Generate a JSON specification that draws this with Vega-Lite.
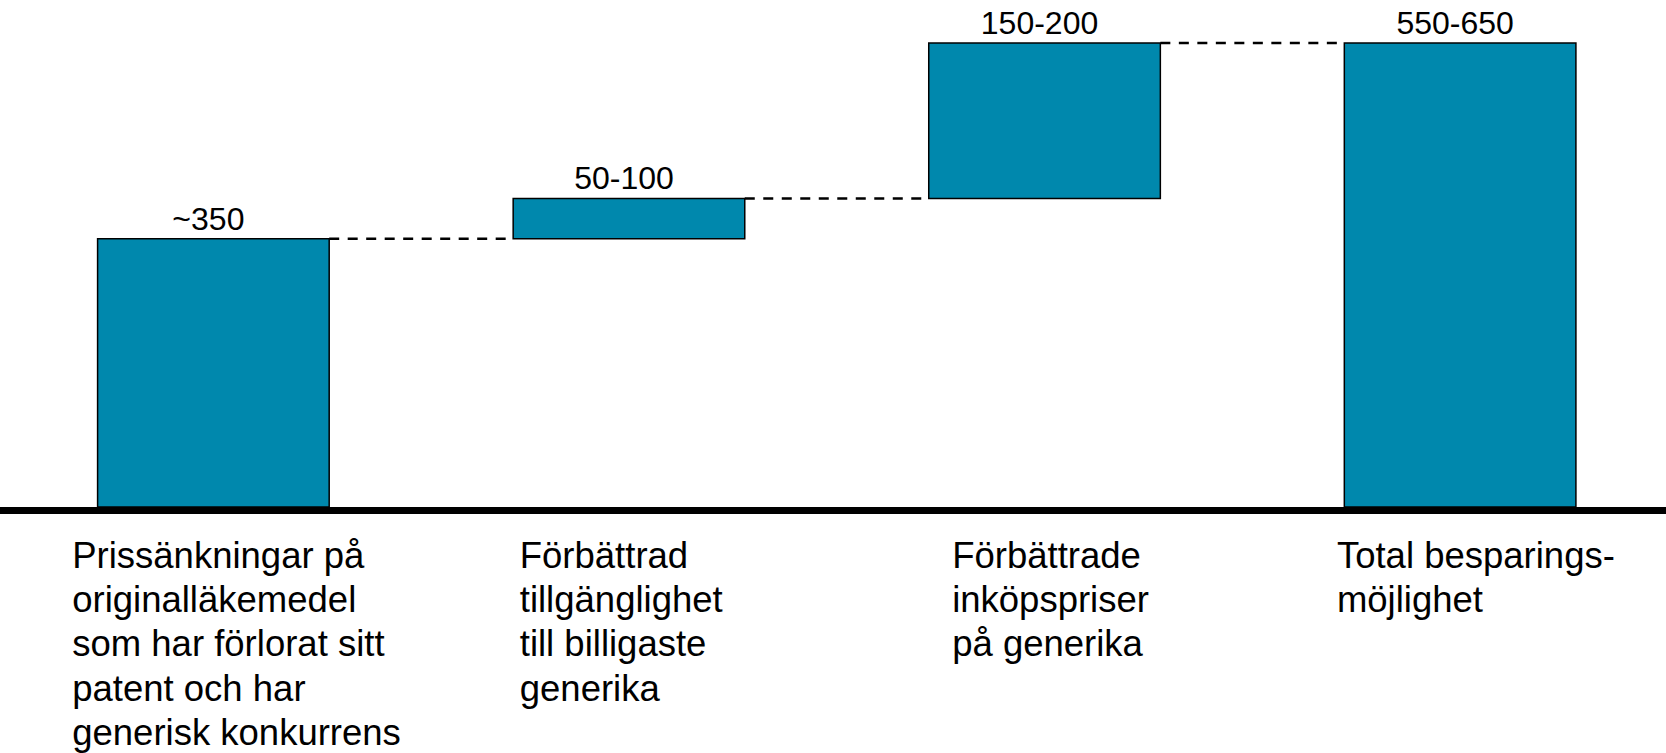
{
  "$schema": "https://vega.github.io/schema/vega-lite/v6.json",
  "width": 1666,
  "height": 753,
  "autosize": "none",
  "padding": 0,
  "background": "white",
  "config": {"view": {"stroke": null}, "font": "Liberation Sans"},
  "datasets": {
    "staplar": [
      {"kategori": "Prissänkningar", "start": 0, "slut": 347, "etikett": "~350", "rader": ["Prissänkningar på", "originalläkemedel", "som har förlorat sitt", "patent och har", "generisk konkurrens"]},
      {"kategori": "Tillgänglighet", "start": 347, "slut": 399, "etikett": "50-100", "rader": ["Förbättrad", "tillgänglighet", "till billigaste", "generika"]},
      {"kategori": "Inköpspriser", "start": 399, "slut": 600, "etikett": "150-200", "rader": ["Förbättrade", "inköpspriser", "på generika"]},
      {"kategori": "Total", "start": 0, "slut": 600, "etikett": "550-650", "rader": ["Total besparings-", "möjlighet"]}
    ],
    "kopplingar": [
      {"fran": "Prissänkningar", "till": "Tillgänglighet", "niva": 347},
      {"fran": "Tillgänglighet", "till": "Inköpspriser", "niva": 399},
      {"fran": "Inköpspriser", "till": "Total", "niva": 600}
    ]
  },
  "encoding": {
    "x": {
      "field": "kategori",
      "type": "nominal",
      "sort": null,
      "axis": null,
      "scale": {"domain": ["Prissänkningar", "Tillgänglighet", "Inköpspriser", "Total"], "paddingInner": 0.4427, "paddingOuter": 0.2258, "align": 0.52}
    }
  },
  "layer": [
    {
      "data": {"name": "kopplingar"},
      "mark": {"type": "rule", "color": "black", "strokeWidth": 2.5, "strokeDash": [10, 8.5]},
      "encoding": {
        "x": {"field": "fran", "type": "nominal", "bandPosition": 1, "sort": null, "axis": null},
        "x2": {"field": "till", "bandPosition": 0},
        "y": {"field": "niva", "type": "quantitative", "scale": {"domain": [-318.1, 655.6], "nice": false, "zero": false}, "axis": null}
      }
    },
    {
      "data": {"name": "staplar"},
      "mark": {"type": "bar", "color": "#0088AD", "stroke": "black", "strokeWidth": 1.5},
      "encoding": {
        "y": {"field": "start", "type": "quantitative", "scale": {"domain": [-318.1, 655.6], "nice": false, "zero": false}, "axis": null},
        "y2": {"field": "slut"}
      }
    },
    {
      "data": {"name": "staplar"},
      "mark": {"type": "rule", "color": "black", "strokeWidth": 7},
      "encoding": {
        "y": {"datum": -4.5, "type": "quantitative"},
        "x": null
      }
    },
    {
      "data": {"name": "staplar"},
      "mark": {"type": "text", "fontSize": 32, "baseline": "alphabetic", "align": "center", "dy": -9, "dx": -5, "color": "black"},
      "encoding": {
        "y": {"field": "slut", "type": "quantitative"},
        "text": {"field": "etikett"}
      }
    },
    {
      "data": {"name": "staplar"},
      "transform": [{"filter": "datum.kategori === 'Prissänkningar'"}],
      "mark": {"type": "text", "fontSize": 36.5, "lineHeight": 44.3, "baseline": "alphabetic", "align": "left", "dx": -25.4, "color": "black"},
      "encoding": {
        "x": {"field": "kategori", "type": "nominal", "bandPosition": 0, "sort": null, "axis": null},
        "y": {"datum": -78.5, "type": "quantitative"},
        "text": {"field": "rader"}
      }
    },
    {
      "data": {"name": "staplar"},
      "transform": [{"filter": "datum.kategori === 'Tillgänglighet'"}],
      "mark": {"type": "text", "fontSize": 36.5, "lineHeight": 44.3, "baseline": "alphabetic", "align": "left", "dx": 6.6, "color": "black"},
      "encoding": {
        "x": {"field": "kategori", "type": "nominal", "bandPosition": 0, "sort": null, "axis": null},
        "y": {"datum": -78.5, "type": "quantitative"},
        "text": {"field": "rader"}
      }
    },
    {
      "data": {"name": "staplar"},
      "transform": [{"filter": "datum.kategori === 'Inköpspriser'"}],
      "mark": {"type": "text", "fontSize": 36.5, "lineHeight": 44.3, "baseline": "alphabetic", "align": "left", "dx": 23.4, "color": "black"},
      "encoding": {
        "x": {"field": "kategori", "type": "nominal", "bandPosition": 0, "sort": null, "axis": null},
        "y": {"datum": -78.5, "type": "quantitative"},
        "text": {"field": "rader"}
      }
    },
    {
      "data": {"name": "staplar"},
      "transform": [{"filter": "datum.kategori === 'Total'"}],
      "mark": {"type": "text", "fontSize": 36.5, "lineHeight": 44.3, "baseline": "alphabetic", "align": "left", "dx": -7.4, "color": "black"},
      "encoding": {
        "x": {"field": "kategori", "type": "nominal", "bandPosition": 0, "sort": null, "axis": null},
        "y": {"datum": -78.5, "type": "quantitative"},
        "text": {"field": "rader"}
      }
    }
  ]
}
